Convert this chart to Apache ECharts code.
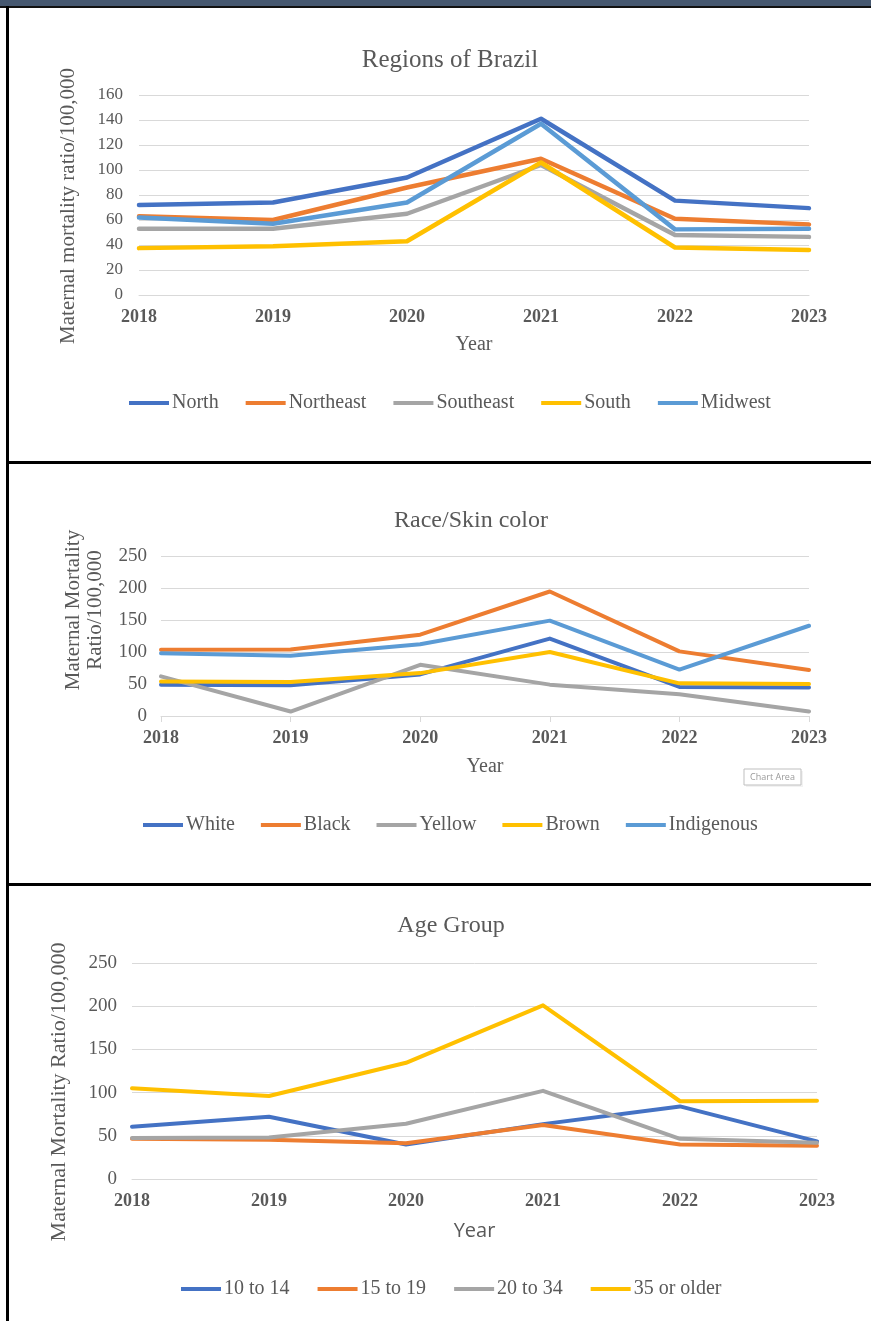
<!DOCTYPE html>
<html>
<head>
<meta charset="utf-8">
<script src="https://cdn.jsdelivr.net/npm/echarts@6/dist/echarts.min.js"></script>
<style>
html,body{margin:0;padding:0;background:#fff;}
#chart{width:871px;height:1321px;}
</style>
</head>
<body>
<div id="chart"></div>
<script>
// ---- data ----
const years = ['2018','2019','2020','2021','2022','2023'];

// Chart 1: Regions of Brazil
const regionNames = ['North','Northeast','Southeast','South','Midwest'];
const north     = [72, 74, 94, 141, 75.5, 69.5];
const northeast = [63, 60, 86, 109, 61, 56.5];
const southeast = [53, 53, 65, 104, 48, 46.5];
const south     = [37.5, 39, 43, 106, 38, 36];
const midwest   = [62, 57, 74, 137, 52.5, 53];

// Chart 2: Race/Skin color
const raceNames = ['White','Black','Yellow','Brown','Indigenous'];
const white      = [49, 48, 65, 121, 45.5, 44.5];
const black      = [103.5, 104, 127, 194.5, 101, 72];
const yellowRace = [62, 7, 80, 49, 34, 7];
const brown      = [54, 53, 67, 100, 51, 50];
const indigenous = [98, 94, 112, 149, 72.5, 141];

// Chart 3: Age Group
const ageNames = ['10 to 14','15 to 19','20 to 34','35 or older'];
const age10to14 = [60.5, 72, 40, 63.5, 84, 43.5];
const age15to19 = [46.5, 45.5, 41.5, 62.5, 40, 38.5];
const age20to34 = [47.5, 48, 64, 102, 46.5, 42];
const age35plus = [105, 96, 134.5, 201, 90, 90.5];

// ---- styling ----
const C = ['#4472C4','#ED7D31','#A5A5A5','#FFC000','#5B9BD5'];
const SERIF = '"Liberation Serif","Times New Roman",serif';
const SANS = '"Open Sans","Noto Sans",sans-serif';
const TXT = '#595959';
const GRIDC = '#D9D9D9';

function mkSeries(names, arrays, idx, width) {
  return names.map((n, i) => ({
    name: n, type: 'line', xAxisIndex: idx, yAxisIndex: idx,
    data: arrays[i], symbol: 'none', smooth: false,
    lineStyle: {color: C[i], width: width, cap: 'round', join: 'round'},
    itemStyle: {color: C[i]}, emphasis: {disabled: true}, z: 2 + i
  }));
}

function xAx(idx, nameGap, nameFont, ticks) {
  return {
    type: 'category', gridIndex: idx, data: years, boundaryGap: false,
    name: 'Year', nameLocation: 'middle', nameGap: nameGap,
    nameTextStyle: {fontFamily: nameFont, fontSize: 20, color: TXT},
    axisLine: {show: true, lineStyle: {color: GRIDC, width: 1}},
    axisTick: {show: ticks, length: 6, lineStyle: {color: GRIDC}},
    axisLabel: {fontFamily: SERIF, fontSize: 18, fontWeight: 'bold', color: TXT, margin: 13},
    splitLine: {show: false}
  };
}
function yAx(idx, max, interval, fs, margin) {
  return {
    type: 'value', gridIndex: idx, min: 0, max: max, interval: interval,
    axisLine: {show: false}, axisTick: {show: false},
    axisLabel: {fontFamily: SERIF, fontSize: fs, color: TXT, margin: margin},
    splitLine: {show: true, lineStyle: {color: GRIDC, width: 1}}
  };
}
function legend(names, left, top, gap) {
  return {
    data: names, left: left, top: top, orient: 'horizontal',
    icon: 'rect', itemWidth: 40, itemHeight: 4, itemGap: gap,
    textStyle: {fontFamily: SERIF, fontSize: 20, color: TXT, padding: [0,0,0,-2]},
    selectedMode: false
  };
}

const option = {
  animation: false,
  backgroundColor: '#fff',
  title: [
    {text: 'Regions of Brazil', left: 445, top: 43, textAlign: 'center',
     textStyle: {fontFamily: SERIF, fontSize: 25, fontWeight: 'normal', color: TXT}},
    {text: 'Race/Skin color', left: 466, top: 504, textAlign: 'center',
     textStyle: {fontFamily: SERIF, fontSize: 24, fontWeight: 'normal', color: TXT}},
    {text: 'Age Group', left: 446, top: 909, textAlign: 'center',
     textStyle: {fontFamily: SERIF, fontSize: 24, fontWeight: 'normal', color: TXT}}
  ],
  legend: [
    legend(regionNames, 124, 388, 27),
    legend(raceNames, 138, 810, 26),
    legend(ageNames, 176, 1274, 28)
  ],
  grid: [
    {left: 139, right: 62, top: 95, height: 200},
    {left: 161, right: 62, top: 556, height: 160},
    {left: 132, right: 54, top: 963, height: 216}
  ],
  xAxis: [
    xAx(0, 40, SERIF, false),
    xAx(1, 41, SERIF, true),
    xAx(2, 42, SANS, false)
  ],
  yAxis: [
    yAx(0, 160, 20, 17, 16),
    yAx(1, 250, 50, 19, 14),
    yAx(2, 250, 50, 19, 15)
  ],
  series: [].concat(
    mkSeries(regionNames, [north, northeast, southeast, south, midwest], 0, 4.5),
    mkSeries(raceNames, [white, black, yellowRace, brown, indigenous], 1, 4),
    mkSeries(ageNames, [age10to14, age15to19, age20to34, age35plus], 2, 4)
  ),
  graphic: [
    {type: 'rect', shape: {x: 0, y: 0, width: 871, height: 7}, style: {fill: '#465870'}, silent: true},
    {type: 'rect', shape: {x: 0, y: 6, width: 871, height: 2}, style: {fill: '#111'}, silent: true},
    {type: 'rect', shape: {x: 6, y: 6, width: 3, height: 1315}, style: {fill: '#000'}, silent: true},
    {type: 'rect', shape: {x: 6, y: 461, width: 865, height: 3}, style: {fill: '#000'}, silent: true},
    {type: 'rect', shape: {x: 6, y: 883, width: 865, height: 3}, style: {fill: '#000'}, silent: true},
    {type: 'text', x: 68, y: 206, rotation: Math.PI / 2,
     style: {text: 'Maternal mortality ratio/100,000', fontFamily: SERIF, fontSize: 21, fill: TXT, align: 'center', verticalAlign: 'middle'}},
    {type: 'text', x: 84, y: 610, rotation: Math.PI / 2,
     style: {text: 'Maternal Mortality\nRatio/100,000', fontFamily: SERIF, fontSize: 21, lineHeight: 22, fill: TXT, align: 'center', verticalAlign: 'middle'}},
    {type: 'text', x: 59, y: 1092, rotation: Math.PI / 2,
     style: {text: 'Maternal Mortality Ratio/100,000', fontFamily: SERIF, fontSize: 22, fill: TXT, align: 'center', verticalAlign: 'middle'}},
    {type: 'rect', shape: {x: 746, y: 771, width: 57, height: 16}, style: {fill: '#F2F2F2'}, silent: true},
    {type: 'rect', shape: {x: 744, y: 769, width: 57, height: 16}, style: {fill: '#fff', stroke: '#BFBFBF', lineWidth: 1}, silent: true},
    {type: 'text', x: 772.5, y: 777, style: {text: 'Chart Area', fontFamily: SANS, fontSize: 9, fill: '#9A9A9A', align: 'center', verticalAlign: 'middle'}, silent: true}
  ]
};

const chart = echarts.init(document.getElementById('chart'), null, {renderer: 'canvas'});
chart.setOption(option);
</script>
</body>
</html>
